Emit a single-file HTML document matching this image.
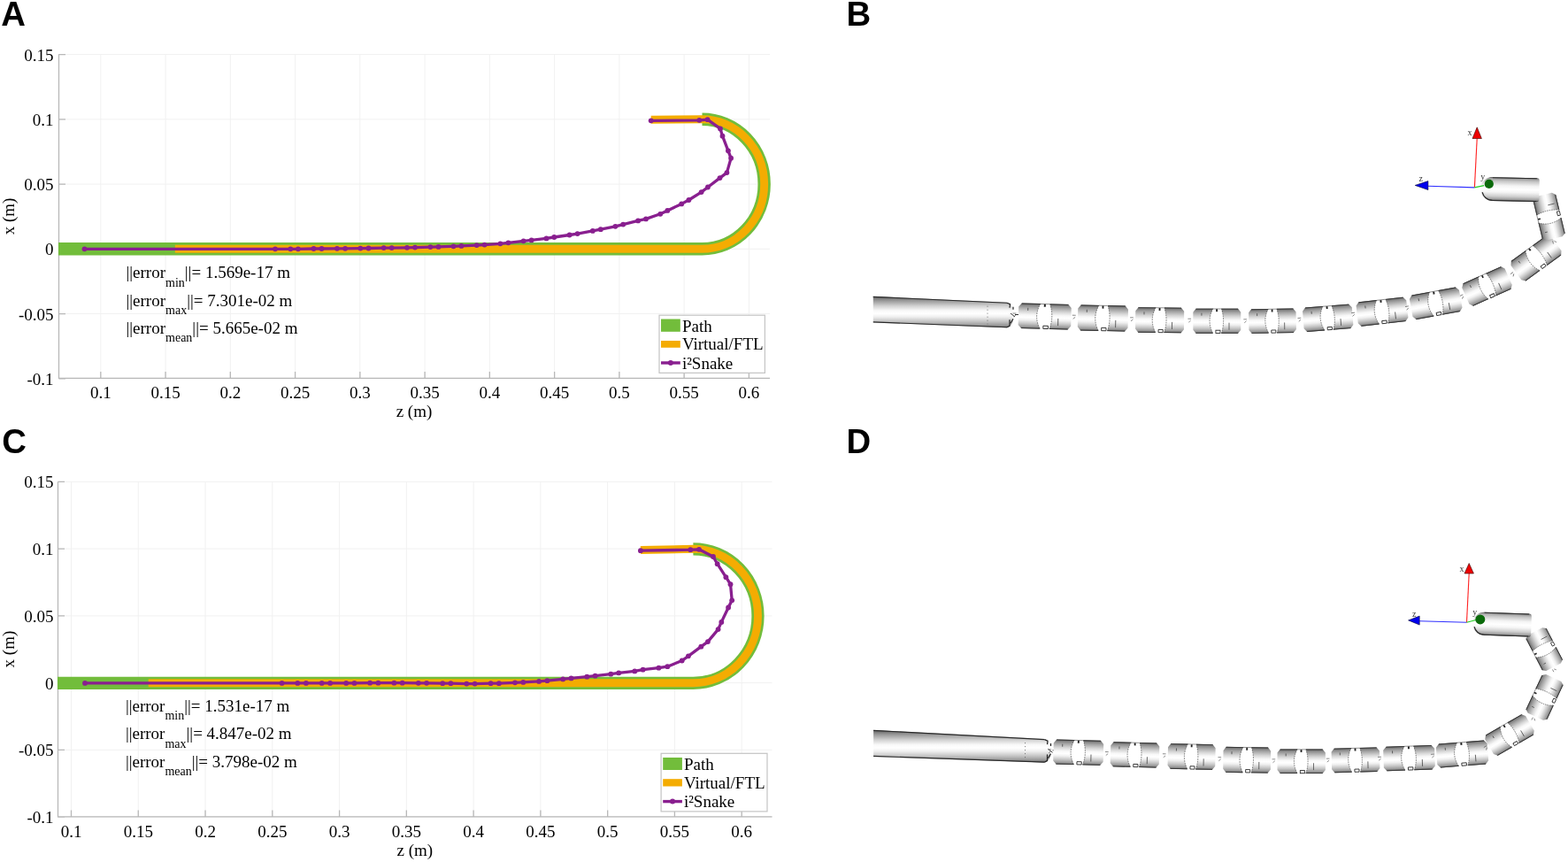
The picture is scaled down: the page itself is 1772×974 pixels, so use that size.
<!DOCTYPE html>
<html><head><meta charset="utf-8"><title>Figure</title>
<style>html,body{margin:0;padding:0;background:#fff;}svg{display:block;}</style></head>
<body><svg width="1772" height="974" viewBox="0 0 1772 974">
<rect width="1772" height="974" fill="#fff"/>
<defs>
<linearGradient id="cyl" x1="0" y1="0" x2="0" y2="1">
<stop offset="0" stop-color="#444"/><stop offset="0.05" stop-color="#7a7a7a"/><stop offset="0.14" stop-color="#9e9e9e"/>
<stop offset="0.32" stop-color="#d6d6d6"/><stop offset="0.46" stop-color="#f8f8f8"/><stop offset="0.56" stop-color="#ffffff"/><stop offset="0.66" stop-color="#f0f0f0"/>
<stop offset="0.8" stop-color="#c6c6c6"/><stop offset="0.92" stop-color="#9a9a9a"/><stop offset="0.97" stop-color="#777"/><stop offset="1" stop-color="#333"/>
</linearGradient>
<linearGradient id="cylL" x1="0" y1="0" x2="0" y2="1">
<stop offset="0" stop-color="#333"/><stop offset="0.04" stop-color="#6e6e6e"/><stop offset="0.12" stop-color="#929292"/>
<stop offset="0.3" stop-color="#d0d0d0"/><stop offset="0.45" stop-color="#f8f8f8"/><stop offset="0.55" stop-color="#ffffff"/><stop offset="0.65" stop-color="#f0f0f0"/>
<stop offset="0.8" stop-color="#c4c4c4"/><stop offset="0.92" stop-color="#999"/><stop offset="0.97" stop-color="#7a7a7a"/><stop offset="1" stop-color="#333"/>
</linearGradient>
<linearGradient id="cylE" x1="0" y1="0" x2="0" y2="1">
<stop offset="0" stop-color="#444"/><stop offset="0.05" stop-color="#9a9a9a"/><stop offset="0.15" stop-color="#c4c4c4"/>
<stop offset="0.35" stop-color="#f4f4f4"/><stop offset="0.5" stop-color="#ffffff"/><stop offset="0.62" stop-color="#f6f6f6"/>
<stop offset="0.8" stop-color="#cfcfcf"/><stop offset="0.93" stop-color="#9c9c9c"/><stop offset="1" stop-color="#333"/>
</linearGradient>
</defs>
<path d="M113.8 61.2V427.4 M187.06 61.2V427.4 M260.32 61.2V427.4 M333.58 61.2V427.4 M406.84 61.2V427.4 M480.1 61.2V427.4 M553.36 61.2V427.4 M626.62 61.2V427.4 M699.88 61.2V427.4 M773.14 61.2V427.4 M846.4 61.2V427.4 M66.5 427.8H870 M66.5 354.55H870 M66.5 281.3H870 M66.5 208.05H870 M66.5 134.8H870 M66.5 61.55H870" stroke="#f1f1f1" stroke-width="1" fill="none"/><path d="M66.5 61.2V427.4H870 M113.8 427.4v-7.5 M187.06 427.4v-7.5 M260.32 427.4v-7.5 M333.58 427.4v-7.5 M406.84 427.4v-7.5 M480.1 427.4v-7.5 M553.36 427.4v-7.5 M626.62 427.4v-7.5 M699.88 427.4v-7.5 M773.14 427.4v-7.5 M846.4 427.4v-7.5 M66.5 427.8h7.5 M66.5 354.55h7.5 M66.5 281.3h7.5 M66.5 208.05h7.5 M66.5 134.8h7.5 M66.5 61.55h7.5" stroke="#b8b8b8" stroke-width="1.3" fill="none"/><path d="M66 281.3H793.5A70.2 73.25 0 0 0 793.5 134.8" stroke="#72bd3b" stroke-width="14.4" fill="none" stroke-linecap="butt"/><path d="M197.8 281.3H793.5A70.2 73.25 0 0 0 793.5 134.8L735.7 135.2" stroke="#f4ac02" stroke-width="8.9" fill="none" stroke-linecap="butt" stroke-linejoin="round"/><path d="M95.5 281.3 L311 281.3 L328.3 281.3 L336.9 281.3 L354.5 281 L363.5 281 L380.9 280.8 L390.1 280.8 L407.3 280.6 L416.5 280.5 L433.7 280.1 L442.7 280.1 L460 279.8 L469 279.6 L486.4 279.1 L495.5 278.9 L512.5 278.3 L521.4 277.9 L538.7 277.1 L547.6 276.6 L565.4 275.3 L574.4 274.3 L591.6 272.3 L600.6 271.4 L617.5 269.4 L626.3 268 L643.6 265.5 L652.6 264.1 L669.8 260.9 L678.8 259.2 L695.4 255.8 L704.2 253.6 L721.1 249.4 L730 247.4 L746.2 241.8 L754.3 237.9 L770.2 230.4 L778.4 226 L792.6 217.1 L799.9 211.5 L813.5 201.1 L821.4 195.1 L826.1 178.7 L822.9 170.3 L816.5 153.7 L814 145.4 L799.6 135.2 L790.3 135.8 L735.7 136.3" stroke="#891f8f" stroke-width="3.3" fill="none" stroke-linejoin="round" stroke-linecap="round"/><circle cx="95.5" cy="281.3" r="2.9" fill="#891f8f"/><circle cx="311" cy="281.3" r="2.9" fill="#891f8f"/><circle cx="328.3" cy="281.3" r="2.9" fill="#891f8f"/><circle cx="336.9" cy="281.3" r="2.9" fill="#891f8f"/><circle cx="354.5" cy="281" r="2.9" fill="#891f8f"/><circle cx="363.5" cy="281" r="2.9" fill="#891f8f"/><circle cx="380.9" cy="280.8" r="2.9" fill="#891f8f"/><circle cx="390.1" cy="280.8" r="2.9" fill="#891f8f"/><circle cx="407.3" cy="280.6" r="2.9" fill="#891f8f"/><circle cx="416.5" cy="280.5" r="2.9" fill="#891f8f"/><circle cx="433.7" cy="280.1" r="2.9" fill="#891f8f"/><circle cx="442.7" cy="280.1" r="2.9" fill="#891f8f"/><circle cx="460" cy="279.8" r="2.9" fill="#891f8f"/><circle cx="469" cy="279.6" r="2.9" fill="#891f8f"/><circle cx="486.4" cy="279.1" r="2.9" fill="#891f8f"/><circle cx="495.5" cy="278.9" r="2.9" fill="#891f8f"/><circle cx="512.5" cy="278.3" r="2.9" fill="#891f8f"/><circle cx="521.4" cy="277.9" r="2.9" fill="#891f8f"/><circle cx="538.7" cy="277.1" r="2.9" fill="#891f8f"/><circle cx="547.6" cy="276.6" r="2.9" fill="#891f8f"/><circle cx="565.4" cy="275.3" r="2.9" fill="#891f8f"/><circle cx="574.4" cy="274.3" r="2.9" fill="#891f8f"/><circle cx="591.6" cy="272.3" r="2.9" fill="#891f8f"/><circle cx="600.6" cy="271.4" r="2.9" fill="#891f8f"/><circle cx="617.5" cy="269.4" r="2.9" fill="#891f8f"/><circle cx="626.3" cy="268" r="2.9" fill="#891f8f"/><circle cx="643.6" cy="265.5" r="2.9" fill="#891f8f"/><circle cx="652.6" cy="264.1" r="2.9" fill="#891f8f"/><circle cx="669.8" cy="260.9" r="2.9" fill="#891f8f"/><circle cx="678.8" cy="259.2" r="2.9" fill="#891f8f"/><circle cx="695.4" cy="255.8" r="2.9" fill="#891f8f"/><circle cx="704.2" cy="253.6" r="2.9" fill="#891f8f"/><circle cx="721.1" cy="249.4" r="2.9" fill="#891f8f"/><circle cx="730" cy="247.4" r="2.9" fill="#891f8f"/><circle cx="746.2" cy="241.8" r="2.9" fill="#891f8f"/><circle cx="754.3" cy="237.9" r="2.9" fill="#891f8f"/><circle cx="770.2" cy="230.4" r="2.9" fill="#891f8f"/><circle cx="778.4" cy="226" r="2.9" fill="#891f8f"/><circle cx="792.6" cy="217.1" r="2.9" fill="#891f8f"/><circle cx="799.9" cy="211.5" r="2.9" fill="#891f8f"/><circle cx="813.5" cy="201.1" r="2.9" fill="#891f8f"/><circle cx="821.4" cy="195.1" r="2.9" fill="#891f8f"/><circle cx="826.1" cy="178.7" r="2.9" fill="#891f8f"/><circle cx="822.9" cy="170.3" r="2.9" fill="#891f8f"/><circle cx="816.5" cy="153.7" r="2.9" fill="#891f8f"/><circle cx="814" cy="145.4" r="2.9" fill="#891f8f"/><circle cx="799.6" cy="135.2" r="2.9" fill="#891f8f"/><circle cx="790.3" cy="135.8" r="2.9" fill="#891f8f"/><circle cx="735.7" cy="136.3" r="2.9" fill="#891f8f"/><g font-family="'Liberation Serif', 'Times New Roman', serif" font-size="19" fill="#000"><text x="113.8" y="450.3" text-anchor="middle">0.1</text><text x="187.06" y="450.3" text-anchor="middle">0.15</text><text x="260.32" y="450.3" text-anchor="middle">0.2</text><text x="333.58" y="450.3" text-anchor="middle">0.25</text><text x="406.84" y="450.3" text-anchor="middle">0.3</text><text x="480.1" y="450.3" text-anchor="middle">0.35</text><text x="553.36" y="450.3" text-anchor="middle">0.4</text><text x="626.62" y="450.3" text-anchor="middle">0.45</text><text x="699.88" y="450.3" text-anchor="middle">0.5</text><text x="773.14" y="450.3" text-anchor="middle">0.55</text><text x="846.4" y="450.3" text-anchor="middle">0.6</text><text x="60.5" y="434.8" text-anchor="end">-0.1</text><text x="60.5" y="361.55" text-anchor="end">-0.05</text><text x="60.5" y="288.3" text-anchor="end">0</text><text x="60.5" y="215.05" text-anchor="end">0.05</text><text x="60.5" y="141.8" text-anchor="end">0.1</text><text x="60.5" y="68.55" text-anchor="end">0.15</text><text x="468" y="471.3" text-anchor="middle">z (m)</text><text transform="translate(16.4 244.5) rotate(-90)" text-anchor="middle">x (m)</text><text x="142.5" y="314.2">||error<tspan font-size="14" dy="9.3">min</tspan><tspan dy="-9.3">||= 1.569e-17 m</tspan></text><text x="142.5" y="345.5">||error<tspan font-size="14" dy="9.3">max</tspan><tspan dy="-9.3">||= 7.301e-02 m</tspan></text><text x="142.5" y="376.5">||error<tspan font-size="14" dy="9.3">mean</tspan><tspan dy="-9.3">||= 5.665e-02 m</tspan></text></g><rect x="745" y="356.2" width="119.4" height="65.2" fill="#fff" stroke="#c4c4c4" stroke-width="1.2"/><rect x="747" y="360.5" width="21.8" height="14.3" fill="#72bd3b"/><rect x="747" y="385" width="21.8" height="7.8" fill="#f4ac02"/><path d="M747 410H768.8" stroke="#891f8f" stroke-width="3.4"/><circle cx="757.9" cy="410" r="3" fill="#891f8f"/><g font-family="'Liberation Serif', 'Times New Roman', serif" font-size="19" fill="#000"><text x="770.9" y="374.7">Path</text><text x="770.9" y="395.4">Virtual/FTL</text><text x="770.9" y="416.7">i²Snake</text></g><path d="M80.5 544.3V922.9 M156.27 544.3V922.9 M232.04 544.3V922.9 M307.81 544.3V922.9 M383.58 544.3V922.9 M459.35 544.3V922.9 M535.12 544.3V922.9 M610.89 544.3V922.9 M686.66 544.3V922.9 M762.43 544.3V922.9 M838.2 544.3V922.9 M65.5 923.1H872.5 M65.5 847.35H872.5 M65.5 771.6H872.5 M65.5 695.85H872.5 M65.5 620.1H872.5 M65.5 544.35H872.5" stroke="#f1f1f1" stroke-width="1" fill="none"/><path d="M65.5 544.3V922.9H872.5 M80.5 922.9v-7.5 M156.27 922.9v-7.5 M232.04 922.9v-7.5 M307.81 922.9v-7.5 M383.58 922.9v-7.5 M459.35 922.9v-7.5 M535.12 922.9v-7.5 M610.89 922.9v-7.5 M686.66 922.9v-7.5 M762.43 922.9v-7.5 M838.2 922.9v-7.5 M65.5 923.1h7.5 M65.5 847.35h7.5 M65.5 771.6h7.5 M65.5 695.85h7.5 M65.5 620.1h7.5 M65.5 544.35h7.5" stroke="#b8b8b8" stroke-width="1.3" fill="none"/><path d="M65 771.8H783.4A73.1 75.75 0 0 0 783.4 620.3" stroke="#72bd3b" stroke-width="14.2" fill="none" stroke-linecap="butt"/><path d="M167.7 771.8H783.4A73.1 75.75 0 0 0 783.4 620.3L723.9 621.5" stroke="#f4ac02" stroke-width="8.9" fill="none" stroke-linecap="butt" stroke-linejoin="round"/><path d="M96 771.95 L318.6 771.95 L336.3 771.95 L345.9 771.95 L363.7 771.95 L373.1 771.95 L391.2 771.95 L400.5 771.95 L418.1 771.65 L427.4 771.65 L445.4 771.65 L454.7 771.65 L472.8 771.85 L482.1 771.85 L500.2 772.15 L509.4 772.15 L527.3 772.55 L536.6 772.55 L554.6 772.15 L563.9 772.15 L582 771.35 L591.3 770.95 L609.1 769.95 L618.4 769.15 L636.2 767.4 L645.5 766.4 L663.3 764.7 L672.6 763.7 L690.3 761.7 L699.2 760.4 L717.3 758.4 L726.6 756.7 L744.4 754.7 L754.3 753.2 L770.7 746.5 L777.9 741.3 L792.3 730.7 L799.9 725.1 L811.6 711.1 L815.3 702.9 L823.1 686.5 L827.2 678.3 L825.5 660.2 L820.4 652.2 L810.7 637.2 L806 629 L790 620.8 L780.3 621.2 L723.9 622.2" stroke="#891f8f" stroke-width="3.3" fill="none" stroke-linejoin="round" stroke-linecap="round"/><circle cx="96" cy="771.95" r="2.9" fill="#891f8f"/><circle cx="318.6" cy="771.95" r="2.9" fill="#891f8f"/><circle cx="336.3" cy="771.95" r="2.9" fill="#891f8f"/><circle cx="345.9" cy="771.95" r="2.9" fill="#891f8f"/><circle cx="363.7" cy="771.95" r="2.9" fill="#891f8f"/><circle cx="373.1" cy="771.95" r="2.9" fill="#891f8f"/><circle cx="391.2" cy="771.95" r="2.9" fill="#891f8f"/><circle cx="400.5" cy="771.95" r="2.9" fill="#891f8f"/><circle cx="418.1" cy="771.65" r="2.9" fill="#891f8f"/><circle cx="427.4" cy="771.65" r="2.9" fill="#891f8f"/><circle cx="445.4" cy="771.65" r="2.9" fill="#891f8f"/><circle cx="454.7" cy="771.65" r="2.9" fill="#891f8f"/><circle cx="472.8" cy="771.85" r="2.9" fill="#891f8f"/><circle cx="482.1" cy="771.85" r="2.9" fill="#891f8f"/><circle cx="500.2" cy="772.15" r="2.9" fill="#891f8f"/><circle cx="509.4" cy="772.15" r="2.9" fill="#891f8f"/><circle cx="527.3" cy="772.55" r="2.9" fill="#891f8f"/><circle cx="536.6" cy="772.55" r="2.9" fill="#891f8f"/><circle cx="554.6" cy="772.15" r="2.9" fill="#891f8f"/><circle cx="563.9" cy="772.15" r="2.9" fill="#891f8f"/><circle cx="582" cy="771.35" r="2.9" fill="#891f8f"/><circle cx="591.3" cy="770.95" r="2.9" fill="#891f8f"/><circle cx="609.1" cy="769.95" r="2.9" fill="#891f8f"/><circle cx="618.4" cy="769.15" r="2.9" fill="#891f8f"/><circle cx="636.2" cy="767.4" r="2.9" fill="#891f8f"/><circle cx="645.5" cy="766.4" r="2.9" fill="#891f8f"/><circle cx="663.3" cy="764.7" r="2.9" fill="#891f8f"/><circle cx="672.6" cy="763.7" r="2.9" fill="#891f8f"/><circle cx="690.3" cy="761.7" r="2.9" fill="#891f8f"/><circle cx="699.2" cy="760.4" r="2.9" fill="#891f8f"/><circle cx="717.3" cy="758.4" r="2.9" fill="#891f8f"/><circle cx="726.6" cy="756.7" r="2.9" fill="#891f8f"/><circle cx="744.4" cy="754.7" r="2.9" fill="#891f8f"/><circle cx="754.3" cy="753.2" r="2.9" fill="#891f8f"/><circle cx="770.7" cy="746.5" r="2.9" fill="#891f8f"/><circle cx="777.9" cy="741.3" r="2.9" fill="#891f8f"/><circle cx="792.3" cy="730.7" r="2.9" fill="#891f8f"/><circle cx="799.9" cy="725.1" r="2.9" fill="#891f8f"/><circle cx="811.6" cy="711.1" r="2.9" fill="#891f8f"/><circle cx="815.3" cy="702.9" r="2.9" fill="#891f8f"/><circle cx="823.1" cy="686.5" r="2.9" fill="#891f8f"/><circle cx="827.2" cy="678.3" r="2.9" fill="#891f8f"/><circle cx="825.5" cy="660.2" r="2.9" fill="#891f8f"/><circle cx="820.4" cy="652.2" r="2.9" fill="#891f8f"/><circle cx="810.7" cy="637.2" r="2.9" fill="#891f8f"/><circle cx="806" cy="629" r="2.9" fill="#891f8f"/><circle cx="790" cy="620.8" r="2.9" fill="#891f8f"/><circle cx="780.3" cy="621.2" r="2.9" fill="#891f8f"/><circle cx="723.9" cy="622.2" r="2.9" fill="#891f8f"/><g font-family="'Liberation Serif', 'Times New Roman', serif" font-size="19" fill="#000"><text x="80.5" y="945.5" text-anchor="middle">0.1</text><text x="156.27" y="945.5" text-anchor="middle">0.15</text><text x="232.04" y="945.5" text-anchor="middle">0.2</text><text x="307.81" y="945.5" text-anchor="middle">0.25</text><text x="383.58" y="945.5" text-anchor="middle">0.3</text><text x="459.35" y="945.5" text-anchor="middle">0.35</text><text x="535.12" y="945.5" text-anchor="middle">0.4</text><text x="610.89" y="945.5" text-anchor="middle">0.45</text><text x="686.66" y="945.5" text-anchor="middle">0.5</text><text x="762.43" y="945.5" text-anchor="middle">0.55</text><text x="838.2" y="945.5" text-anchor="middle">0.6</text><text x="60.5" y="930.1" text-anchor="end">-0.1</text><text x="60.5" y="854.35" text-anchor="end">-0.05</text><text x="60.5" y="778.6" text-anchor="end">0</text><text x="60.5" y="702.85" text-anchor="end">0.05</text><text x="60.5" y="627.1" text-anchor="end">0.1</text><text x="60.5" y="551.35" text-anchor="end">0.15</text><text x="468.9" y="967.4" text-anchor="middle">z (m)</text><text transform="translate(16.4 733.6) rotate(-90)" text-anchor="middle">x (m)</text><text x="141.9" y="803.8">||error<tspan font-size="14" dy="9.3">min</tspan><tspan dy="-9.3">||= 1.531e-17 m</tspan></text><text x="141.9" y="835.2">||error<tspan font-size="14" dy="9.3">max</tspan><tspan dy="-9.3">||= 4.847e-02 m</tspan></text><text x="141.9" y="866.5">||error<tspan font-size="14" dy="9.3">mean</tspan><tspan dy="-9.3">||= 3.798e-02 m</tspan></text></g><rect x="747.1" y="851.3" width="119.9" height="65.6" fill="#fff" stroke="#c4c4c4" stroke-width="1.2"/><rect x="749.2" y="856" width="21.7" height="14" fill="#72bd3b"/><rect x="749.2" y="880.2" width="21.7" height="8.3" fill="#f4ac02"/><path d="M749.2 905.6H770.9" stroke="#891f8f" stroke-width="3.4"/><circle cx="760.05" cy="905.6" r="3" fill="#891f8f"/><g font-family="'Liberation Serif', 'Times New Roman', serif" font-size="19" fill="#000"><text x="772.9" y="869.8">Path</text><text x="772.9" y="890.8">Virtual/FTL</text><text x="772.9" y="912.3">i²Snake</text></g><path d="M986.8 334.9L1138 341.7L1142.5 344.7L1145 348.7L1144 356L1145 363.3L1142.5 367.3L1138 370.3L986.8 364.4Z" fill="url(#cylL)"/><path d="M986.8 335.4L1138 342.2M986.8 363.9L1138 369.8" stroke="#2a2a2a" stroke-width="1.1" fill="none"/><path d="M1138 342.2L1141.5 343.7L1141 347.7M1145 346.7L1145 349.7M1141 361.3L1141 368.3L1138 369.8M1145 360.3L1142 365.3" stroke="#222" stroke-width="1.2" fill="none"/><path d="M1142 354L1147 358M1147 355.5H1152" stroke="#333" stroke-width="1" fill="none"/><path d="M1116 345.7V366.3" stroke="#555" stroke-width="0.8" stroke-dasharray="1 3" fill="none"/><g transform="translate(1180.7 357.5) rotate(1.5) scale(1.010 1.018)"><path d="M-26 -14H-5Q-13 0 -5 14H-26L-29.5 10V-10Z" fill="url(#cyl)"/><path d="M5.5 -14H26L29.5 -10V10L26 14H5.5Q10.5 0 5.5 -14Z" fill="url(#cyl)"/><path d="M-26 -13.55H-5M-26 13.55H-5M5.5 -13.55H26M5.5 13.55H26" stroke="#333" stroke-width="0.9" fill="none"/><path d="M-5 -13.7H5" stroke="#444" stroke-width="0.6" fill="none"/><path d="M-5 -14Q-13 0 -5 14M5.5 -14Q10.5 0 5.5 14" stroke="#444" stroke-width="0.7" stroke-dasharray="1.6 1.1" fill="none"/><path d="M-19 -9V-6M15 2V10" stroke="#444" stroke-width="0.8" fill="none"/><rect x="-1.2" y="-13.5" width="2" height="3" fill="#222"/><rect x="-1.5" y="10.5" width="5.5" height="3.2" fill="#fff" stroke="#222" stroke-width="0.9"/><path d="M-36 -2.5H-32M-35 1.5L-32.5 -0.5" stroke="#555" stroke-width="0.7" fill="none"/></g><g transform="translate(1246.4 359.5) rotate(1.2) scale(0.962 1.036)"><path d="M-26 -14H-5Q-13 0 -5 14H-26L-29.5 10V-10Z" fill="url(#cyl)"/><path d="M5.5 -14H26L29.5 -10V10L26 14H5.5Q10.5 0 5.5 -14Z" fill="url(#cyl)"/><path d="M-26 -13.55H-5M-26 13.55H-5M5.5 -13.55H26M5.5 13.55H26" stroke="#333" stroke-width="0.9" fill="none"/><path d="M-5 -13.7H5" stroke="#444" stroke-width="0.6" fill="none"/><path d="M-5 -14Q-13 0 -5 14M5.5 -14Q10.5 0 5.5 14" stroke="#444" stroke-width="0.7" stroke-dasharray="1.6 1.1" fill="none"/><path d="M-19 -9V-6M15 2V10" stroke="#444" stroke-width="0.8" fill="none"/><rect x="-1.2" y="-13.5" width="2" height="3" fill="#222"/><rect x="-1.5" y="10.5" width="5.5" height="3.2" fill="#fff" stroke="#222" stroke-width="0.9"/><path d="M-36 -2.5H-32M-35 1.5L-32.5 -0.5" stroke="#555" stroke-width="0.7" fill="none"/></g><g transform="translate(1310.6 361.7) rotate(0.6) scale(0.931 1.018)"><path d="M-26 -14H-5Q-13 0 -5 14H-26L-29.5 10V-10Z" fill="url(#cyl)"/><path d="M5.5 -14H26L29.5 -10V10L26 14H5.5Q10.5 0 5.5 -14Z" fill="url(#cyl)"/><path d="M-26 -13.55H-5M-26 13.55H-5M5.5 -13.55H26M5.5 13.55H26" stroke="#333" stroke-width="0.9" fill="none"/><path d="M-5 -13.7H5" stroke="#444" stroke-width="0.6" fill="none"/><path d="M-5 -14Q-13 0 -5 14M5.5 -14Q10.5 0 5.5 14" stroke="#444" stroke-width="0.7" stroke-dasharray="1.6 1.1" fill="none"/><path d="M-19 -9V-6M15 2V10" stroke="#444" stroke-width="0.8" fill="none"/><rect x="-1.2" y="-13.5" width="2" height="3" fill="#222"/><rect x="-1.5" y="10.5" width="5.5" height="3.2" fill="#fff" stroke="#222" stroke-width="0.9"/><path d="M-36 -2.5H-32M-35 1.5L-32.5 -0.5" stroke="#555" stroke-width="0.7" fill="none"/></g><g transform="translate(1375.3 362.7) rotate(0) scale(0.914 1.000)"><path d="M-26 -14H-5Q-13 0 -5 14H-26L-29.5 10V-10Z" fill="url(#cyl)"/><path d="M5.5 -14H26L29.5 -10V10L26 14H5.5Q10.5 0 5.5 -14Z" fill="url(#cyl)"/><path d="M-26 -13.55H-5M-26 13.55H-5M5.5 -13.55H26M5.5 13.55H26" stroke="#333" stroke-width="0.9" fill="none"/><path d="M-5 -13.7H5" stroke="#444" stroke-width="0.6" fill="none"/><path d="M-5 -14Q-13 0 -5 14M5.5 -14Q10.5 0 5.5 14" stroke="#444" stroke-width="0.7" stroke-dasharray="1.6 1.1" fill="none"/><path d="M-19 -9V-6M15 2V10" stroke="#444" stroke-width="0.8" fill="none"/><rect x="-1.2" y="-13.5" width="2" height="3" fill="#222"/><rect x="-1.5" y="10.5" width="5.5" height="3.2" fill="#fff" stroke="#222" stroke-width="0.9"/><path d="M-36 -2.5H-32M-35 1.5L-32.5 -0.5" stroke="#555" stroke-width="0.7" fill="none"/></g><g transform="translate(1438 362.7) rotate(-1) scale(0.907 0.982)"><path d="M-26 -14H-5Q-13 0 -5 14H-26L-29.5 10V-10Z" fill="url(#cyl)"/><path d="M5.5 -14H26L29.5 -10V10L26 14H5.5Q10.5 0 5.5 -14Z" fill="url(#cyl)"/><path d="M-26 -13.55H-5M-26 13.55H-5M5.5 -13.55H26M5.5 13.55H26" stroke="#333" stroke-width="0.9" fill="none"/><path d="M-5 -13.7H5" stroke="#444" stroke-width="0.6" fill="none"/><path d="M-5 -14Q-13 0 -5 14M5.5 -14Q10.5 0 5.5 14" stroke="#444" stroke-width="0.7" stroke-dasharray="1.6 1.1" fill="none"/><path d="M-19 -9V-6M15 2V10" stroke="#444" stroke-width="0.8" fill="none"/><rect x="-1.2" y="-13.5" width="2" height="3" fill="#222"/><rect x="-1.5" y="10.5" width="5.5" height="3.2" fill="#fff" stroke="#222" stroke-width="0.9"/><path d="M-36 -2.5H-32M-35 1.5L-32.5 -0.5" stroke="#555" stroke-width="0.7" fill="none"/></g><g transform="translate(1500.7 359.3) rotate(-4.5) scale(0.948 0.982)"><path d="M-26 -14H-5Q-13 0 -5 14H-26L-29.5 10V-10Z" fill="url(#cyl)"/><path d="M5.5 -14H26L29.5 -10V10L26 14H5.5Q10.5 0 5.5 -14Z" fill="url(#cyl)"/><path d="M-26 -13.55H-5M-26 13.55H-5M5.5 -13.55H26M5.5 13.55H26" stroke="#333" stroke-width="0.9" fill="none"/><path d="M-5 -13.7H5" stroke="#444" stroke-width="0.6" fill="none"/><path d="M-5 -14Q-13 0 -5 14M5.5 -14Q10.5 0 5.5 14" stroke="#444" stroke-width="0.7" stroke-dasharray="1.6 1.1" fill="none"/><path d="M-19 -9V-6M15 2V10" stroke="#444" stroke-width="0.8" fill="none"/><rect x="-1.2" y="-13.5" width="2" height="3" fill="#222"/><rect x="-1.5" y="10.5" width="5.5" height="3.2" fill="#fff" stroke="#222" stroke-width="0.9"/><path d="M-36 -2.5H-32M-35 1.5L-32.5 -0.5" stroke="#555" stroke-width="0.7" fill="none"/></g><g transform="translate(1562 352.2) rotate(-6.4) scale(0.966 0.982)"><path d="M-26 -14H-5Q-13 0 -5 14H-26L-29.5 10V-10Z" fill="url(#cyl)"/><path d="M5.5 -14H26L29.5 -10V10L26 14H5.5Q10.5 0 5.5 -14Z" fill="url(#cyl)"/><path d="M-26 -13.55H-5M-26 13.55H-5M5.5 -13.55H26M5.5 13.55H26" stroke="#333" stroke-width="0.9" fill="none"/><path d="M-5 -13.7H5" stroke="#444" stroke-width="0.6" fill="none"/><path d="M-5 -14Q-13 0 -5 14M5.5 -14Q10.5 0 5.5 14" stroke="#444" stroke-width="0.7" stroke-dasharray="1.6 1.1" fill="none"/><path d="M-19 -9V-6M15 2V10" stroke="#444" stroke-width="0.8" fill="none"/><rect x="-1.2" y="-13.5" width="2" height="3" fill="#222"/><rect x="-1.5" y="10.5" width="5.5" height="3.2" fill="#fff" stroke="#222" stroke-width="0.9"/><path d="M-36 -2.5H-32M-35 1.5L-32.5 -0.5" stroke="#555" stroke-width="0.7" fill="none"/></g><g transform="translate(1622.7 342.8) rotate(-10.3) scale(0.966 1.000)"><path d="M-26 -14H-5Q-13 0 -5 14H-26L-29.5 10V-10Z" fill="url(#cyl)"/><path d="M5.5 -14H26L29.5 -10V10L26 14H5.5Q10.5 0 5.5 -14Z" fill="url(#cyl)"/><path d="M-26 -13.55H-5M-26 13.55H-5M5.5 -13.55H26M5.5 13.55H26" stroke="#333" stroke-width="0.9" fill="none"/><path d="M-5 -13.7H5" stroke="#444" stroke-width="0.6" fill="none"/><path d="M-5 -14Q-13 0 -5 14M5.5 -14Q10.5 0 5.5 14" stroke="#444" stroke-width="0.7" stroke-dasharray="1.6 1.1" fill="none"/><path d="M-19 -9V-6M15 2V10" stroke="#444" stroke-width="0.8" fill="none"/><rect x="-1.2" y="-13.5" width="2" height="3" fill="#222"/><rect x="-1.5" y="10.5" width="5.5" height="3.2" fill="#fff" stroke="#222" stroke-width="0.9"/><path d="M-36 -2.5H-32M-35 1.5L-32.5 -0.5" stroke="#555" stroke-width="0.7" fill="none"/></g><g transform="translate(1680.5 323.5) rotate(-24) scale(0.897 1.000)"><path d="M-26 -14H-5Q-13 0 -5 14H-26L-29.5 10V-10Z" fill="url(#cyl)"/><path d="M5.5 -14H26L29.5 -10V10L26 14H5.5Q10.5 0 5.5 -14Z" fill="url(#cyl)"/><path d="M-26 -13.55H-5M-26 13.55H-5M5.5 -13.55H26M5.5 13.55H26" stroke="#333" stroke-width="0.9" fill="none"/><path d="M-5 -13.7H5" stroke="#444" stroke-width="0.6" fill="none"/><path d="M-5 -14Q-13 0 -5 14M5.5 -14Q10.5 0 5.5 14" stroke="#444" stroke-width="0.7" stroke-dasharray="1.6 1.1" fill="none"/><path d="M-19 -9V-6M15 2V10" stroke="#444" stroke-width="0.8" fill="none"/><rect x="-1.2" y="-13.5" width="2" height="3" fill="#222"/><rect x="-1.5" y="10.5" width="5.5" height="3.2" fill="#fff" stroke="#222" stroke-width="0.9"/><path d="M-36 -2.5H-32M-35 1.5L-32.5 -0.5" stroke="#555" stroke-width="0.7" fill="none"/></g><g transform="translate(1736 291.7) rotate(-36) scale(0.948 1.000)"><path d="M-26 -14H-5Q-13 0 -5 14H-26L-29.5 10V-10Z" fill="url(#cyl)"/><path d="M5.5 -14H26L29.5 -10V10L26 14H5.5Q10.5 0 5.5 -14Z" fill="url(#cyl)"/><path d="M-26 -13.55H-5M-26 13.55H-5M5.5 -13.55H26M5.5 13.55H26" stroke="#333" stroke-width="0.9" fill="none"/><path d="M-5 -13.7H5" stroke="#444" stroke-width="0.6" fill="none"/><path d="M-5 -14Q-13 0 -5 14M5.5 -14Q10.5 0 5.5 14" stroke="#444" stroke-width="0.7" stroke-dasharray="1.6 1.1" fill="none"/><path d="M-19 -9V-6M15 2V10" stroke="#444" stroke-width="0.8" fill="none"/><rect x="-1.2" y="-13.5" width="2" height="3" fill="#222"/><rect x="-1.5" y="10.5" width="5.5" height="3.2" fill="#fff" stroke="#222" stroke-width="0.9"/><path d="M-36 -2.5H-32M-35 1.5L-32.5 -0.5" stroke="#555" stroke-width="0.7" fill="none"/></g><g transform="translate(1750.5 244.8) rotate(-103.5) scale(0.862 0.946)"><path d="M-26 -14H-5Q-13 0 -5 14H-26L-29.5 10V-10Z" fill="url(#cyl)"/><path d="M5.5 -14H26L29.5 -10V10L26 14H5.5Q10.5 0 5.5 -14Z" fill="url(#cyl)"/><path d="M-26 -13.55H-5M-26 13.55H-5M5.5 -13.55H26M5.5 13.55H26" stroke="#333" stroke-width="0.9" fill="none"/><path d="M-5 -13.7H5" stroke="#444" stroke-width="0.6" fill="none"/><path d="M-5 -14Q-13 0 -5 14M5.5 -14Q10.5 0 5.5 14" stroke="#444" stroke-width="0.7" stroke-dasharray="1.6 1.1" fill="none"/><path d="M-19 -9V-6M15 2V10" stroke="#444" stroke-width="0.8" fill="none"/><rect x="-1.2" y="-13.5" width="2" height="3" fill="#222"/><rect x="-1.5" y="10.5" width="5.5" height="3.2" fill="#fff" stroke="#222" stroke-width="0.9"/><path d="M-36 -2.5H-32M-35 1.5L-32.5 -0.5" stroke="#555" stroke-width="0.7" fill="none"/></g><g transform="translate(1673.2 213.2) rotate(1.38)"><path d="M13.4 -13.4H63.32Q66.32 -13.4 66.32 -10.4V10.4Q66.32 13.4 63.32 13.4H13.4A13.4 13.4 0 0 1 13.4 -13.4Z" fill="url(#cylE)"/><path d="M13.4 -12.9H63.32M13.4 12.9H63.32" stroke="#2a2a2a" stroke-width="1" fill="none"/><path d="M13.4 12.9A12.9 12.9 0 0 1 2 4" stroke="#2a2a2a" stroke-width="1.2" fill="none"/></g><path d="M1666.4 211.9L1669.2 156.5" stroke="#ff2020" stroke-width="1.1"/><path d="M1664 156.5L1669.2 143.8L1674.4 156.5Z" fill="#ee0000" stroke="#300" stroke-width="0.6" stroke-linejoin="round"/><path d="M1666.4 211.9L1613.9 210.2" stroke="#3030ff" stroke-width="1.1"/><path d="M1613.9 204.6L1599.2 209.4L1613.9 214.6Z" fill="#0000ee" stroke="#003" stroke-width="0.6" stroke-linejoin="round"/><path d="M1666.4 211.9L1677.1 209.6" stroke="#20d020" stroke-width="1.1"/><circle cx="1682.8" cy="207.9" r="5.1" fill="#0a6a0a"/><g font-family="'Liberation Serif', 'Times New Roman', serif" font-size="10" fill="#3a3a3a"><text x="1658.6" y="153.1">x</text><text x="1603.6" y="205.2">z</text><text x="1673.2" y="203.4">y</text></g><path d="M987.1 824.9L1180.5 835.1L1185 838.1L1187.5 842.1L1186.5 848.35L1187.5 854.6L1185 858.6L1180.5 861.6L987.1 854.9Z" fill="url(#cylL)"/><path d="M987.1 825.4L1180.5 835.6M987.1 854.4L1180.5 861.1" stroke="#2a2a2a" stroke-width="1.1" fill="none"/><path d="M1180.5 835.6L1184 837.1L1183.5 841.1M1187.5 840.1L1187.5 843.1M1183.5 852.6L1183.5 859.6L1180.5 861.1M1187.5 851.6L1184.5 856.6" stroke="#222" stroke-width="1.2" fill="none"/><path d="M1184.5 846.35L1189.5 850.35M1189.5 847.85H1194.5" stroke="#333" stroke-width="1" fill="none"/><path d="M1158.5 839.1V857.6" stroke="#555" stroke-width="0.8" stroke-dasharray="1 3" fill="none"/><g transform="translate(1218.7 850.2) rotate(1.5) scale(0.957 1.000)"><path d="M-26 -14H-5Q-13 0 -5 14H-26L-29.5 10V-10Z" fill="url(#cyl)"/><path d="M5.5 -14H26L29.5 -10V10L26 14H5.5Q10.5 0 5.5 -14Z" fill="url(#cyl)"/><path d="M-26 -13.55H-5M-26 13.55H-5M5.5 -13.55H26M5.5 13.55H26" stroke="#333" stroke-width="0.9" fill="none"/><path d="M-5 -13.7H5" stroke="#444" stroke-width="0.6" fill="none"/><path d="M-5 -14Q-13 0 -5 14M5.5 -14Q10.5 0 5.5 14" stroke="#444" stroke-width="0.7" stroke-dasharray="1.6 1.1" fill="none"/><path d="M-19 -9V-6M15 2V10" stroke="#444" stroke-width="0.8" fill="none"/><rect x="-1.2" y="-13.5" width="2" height="3" fill="#222"/><rect x="-1.5" y="10.5" width="5.5" height="3.2" fill="#fff" stroke="#222" stroke-width="0.9"/><path d="M-36 -2.5H-32M-35 1.5L-32.5 -0.5" stroke="#555" stroke-width="0.7" fill="none"/></g><g transform="translate(1282.5 852.9) rotate(1.5) scale(0.934 1.000)"><path d="M-26 -14H-5Q-13 0 -5 14H-26L-29.5 10V-10Z" fill="url(#cyl)"/><path d="M5.5 -14H26L29.5 -10V10L26 14H5.5Q10.5 0 5.5 -14Z" fill="url(#cyl)"/><path d="M-26 -13.55H-5M-26 13.55H-5M5.5 -13.55H26M5.5 13.55H26" stroke="#333" stroke-width="0.9" fill="none"/><path d="M-5 -13.7H5" stroke="#444" stroke-width="0.6" fill="none"/><path d="M-5 -14Q-13 0 -5 14M5.5 -14Q10.5 0 5.5 14" stroke="#444" stroke-width="0.7" stroke-dasharray="1.6 1.1" fill="none"/><path d="M-19 -9V-6M15 2V10" stroke="#444" stroke-width="0.8" fill="none"/><rect x="-1.2" y="-13.5" width="2" height="3" fill="#222"/><rect x="-1.5" y="10.5" width="5.5" height="3.2" fill="#fff" stroke="#222" stroke-width="0.9"/><path d="M-36 -2.5H-32M-35 1.5L-32.5 -0.5" stroke="#555" stroke-width="0.7" fill="none"/></g><g transform="translate(1346.6 855) rotate(1.2) scale(0.910 1.025)"><path d="M-26 -14H-5Q-13 0 -5 14H-26L-29.5 10V-10Z" fill="url(#cyl)"/><path d="M5.5 -14H26L29.5 -10V10L26 14H5.5Q10.5 0 5.5 -14Z" fill="url(#cyl)"/><path d="M-26 -13.55H-5M-26 13.55H-5M5.5 -13.55H26M5.5 13.55H26" stroke="#333" stroke-width="0.9" fill="none"/><path d="M-5 -13.7H5" stroke="#444" stroke-width="0.6" fill="none"/><path d="M-5 -14Q-13 0 -5 14M5.5 -14Q10.5 0 5.5 14" stroke="#444" stroke-width="0.7" stroke-dasharray="1.6 1.1" fill="none"/><path d="M-19 -9V-6M15 2V10" stroke="#444" stroke-width="0.8" fill="none"/><rect x="-1.2" y="-13.5" width="2" height="3" fill="#222"/><rect x="-1.5" y="10.5" width="5.5" height="3.2" fill="#fff" stroke="#222" stroke-width="0.9"/><path d="M-36 -2.5H-32M-35 1.5L-32.5 -0.5" stroke="#555" stroke-width="0.7" fill="none"/></g><g transform="translate(1409.2 858.7) rotate(0.8) scale(0.910 1.036)"><path d="M-26 -14H-5Q-13 0 -5 14H-26L-29.5 10V-10Z" fill="url(#cyl)"/><path d="M5.5 -14H26L29.5 -10V10L26 14H5.5Q10.5 0 5.5 -14Z" fill="url(#cyl)"/><path d="M-26 -13.55H-5M-26 13.55H-5M5.5 -13.55H26M5.5 13.55H26" stroke="#333" stroke-width="0.9" fill="none"/><path d="M-5 -13.7H5" stroke="#444" stroke-width="0.6" fill="none"/><path d="M-5 -14Q-13 0 -5 14M5.5 -14Q10.5 0 5.5 14" stroke="#444" stroke-width="0.7" stroke-dasharray="1.6 1.1" fill="none"/><path d="M-19 -9V-6M15 2V10" stroke="#444" stroke-width="0.8" fill="none"/><rect x="-1.2" y="-13.5" width="2" height="3" fill="#222"/><rect x="-1.5" y="10.5" width="5.5" height="3.2" fill="#fff" stroke="#222" stroke-width="0.9"/><path d="M-36 -2.5H-32M-35 1.5L-32.5 -0.5" stroke="#555" stroke-width="0.7" fill="none"/></g><g transform="translate(1470.7 860.3) rotate(0) scale(0.921 0.982)"><path d="M-26 -14H-5Q-13 0 -5 14H-26L-29.5 10V-10Z" fill="url(#cyl)"/><path d="M5.5 -14H26L29.5 -10V10L26 14H5.5Q10.5 0 5.5 -14Z" fill="url(#cyl)"/><path d="M-26 -13.55H-5M-26 13.55H-5M5.5 -13.55H26M5.5 13.55H26" stroke="#333" stroke-width="0.9" fill="none"/><path d="M-5 -13.7H5" stroke="#444" stroke-width="0.6" fill="none"/><path d="M-5 -14Q-13 0 -5 14M5.5 -14Q10.5 0 5.5 14" stroke="#444" stroke-width="0.7" stroke-dasharray="1.6 1.1" fill="none"/><path d="M-19 -9V-6M15 2V10" stroke="#444" stroke-width="0.8" fill="none"/><rect x="-1.2" y="-13.5" width="2" height="3" fill="#222"/><rect x="-1.5" y="10.5" width="5.5" height="3.2" fill="#fff" stroke="#222" stroke-width="0.9"/><path d="M-36 -2.5H-32M-35 1.5L-32.5 -0.5" stroke="#555" stroke-width="0.7" fill="none"/></g><g transform="translate(1532 858.8) rotate(-1.5) scale(0.921 0.982)"><path d="M-26 -14H-5Q-13 0 -5 14H-26L-29.5 10V-10Z" fill="url(#cyl)"/><path d="M5.5 -14H26L29.5 -10V10L26 14H5.5Q10.5 0 5.5 -14Z" fill="url(#cyl)"/><path d="M-26 -13.55H-5M-26 13.55H-5M5.5 -13.55H26M5.5 13.55H26" stroke="#333" stroke-width="0.9" fill="none"/><path d="M-5 -13.7H5" stroke="#444" stroke-width="0.6" fill="none"/><path d="M-5 -14Q-13 0 -5 14M5.5 -14Q10.5 0 5.5 14" stroke="#444" stroke-width="0.7" stroke-dasharray="1.6 1.1" fill="none"/><path d="M-19 -9V-6M15 2V10" stroke="#444" stroke-width="0.8" fill="none"/><rect x="-1.2" y="-13.5" width="2" height="3" fill="#222"/><rect x="-1.5" y="10.5" width="5.5" height="3.2" fill="#fff" stroke="#222" stroke-width="0.9"/><path d="M-36 -2.5H-32M-35 1.5L-32.5 -0.5" stroke="#555" stroke-width="0.7" fill="none"/></g><g transform="translate(1592.5 856.6) rotate(-2) scale(0.983 0.982)"><path d="M-26 -14H-5Q-13 0 -5 14H-26L-29.5 10V-10Z" fill="url(#cyl)"/><path d="M5.5 -14H26L29.5 -10V10L26 14H5.5Q10.5 0 5.5 -14Z" fill="url(#cyl)"/><path d="M-26 -13.55H-5M-26 13.55H-5M5.5 -13.55H26M5.5 13.55H26" stroke="#333" stroke-width="0.9" fill="none"/><path d="M-5 -13.7H5" stroke="#444" stroke-width="0.6" fill="none"/><path d="M-5 -14Q-13 0 -5 14M5.5 -14Q10.5 0 5.5 14" stroke="#444" stroke-width="0.7" stroke-dasharray="1.6 1.1" fill="none"/><path d="M-19 -9V-6M15 2V10" stroke="#444" stroke-width="0.8" fill="none"/><rect x="-1.2" y="-13.5" width="2" height="3" fill="#222"/><rect x="-1.5" y="10.5" width="5.5" height="3.2" fill="#fff" stroke="#222" stroke-width="0.9"/><path d="M-36 -2.5H-32M-35 1.5L-32.5 -0.5" stroke="#555" stroke-width="0.7" fill="none"/></g><g transform="translate(1652.5 852) rotate(-4.5) scale(0.983 0.964)"><path d="M-26 -14H-5Q-13 0 -5 14H-26L-29.5 10V-10Z" fill="url(#cyl)"/><path d="M5.5 -14H26L29.5 -10V10L26 14H5.5Q10.5 0 5.5 -14Z" fill="url(#cyl)"/><path d="M-26 -13.55H-5M-26 13.55H-5M5.5 -13.55H26M5.5 13.55H26" stroke="#333" stroke-width="0.9" fill="none"/><path d="M-5 -13.7H5" stroke="#444" stroke-width="0.6" fill="none"/><path d="M-5 -14Q-13 0 -5 14M5.5 -14Q10.5 0 5.5 14" stroke="#444" stroke-width="0.7" stroke-dasharray="1.6 1.1" fill="none"/><path d="M-19 -9V-6M15 2V10" stroke="#444" stroke-width="0.8" fill="none"/><rect x="-1.2" y="-13.5" width="2" height="3" fill="#222"/><rect x="-1.5" y="10.5" width="5.5" height="3.2" fill="#fff" stroke="#222" stroke-width="0.9"/><path d="M-36 -2.5H-32M-35 1.5L-32.5 -0.5" stroke="#555" stroke-width="0.7" fill="none"/></g><g transform="translate(1706 830.5) rotate(-30) scale(0.897 0.964)"><path d="M-26 -14H-5Q-13 0 -5 14H-26L-29.5 10V-10Z" fill="url(#cyl)"/><path d="M5.5 -14H26L29.5 -10V10L26 14H5.5Q10.5 0 5.5 -14Z" fill="url(#cyl)"/><path d="M-26 -13.55H-5M-26 13.55H-5M5.5 -13.55H26M5.5 13.55H26" stroke="#333" stroke-width="0.9" fill="none"/><path d="M-5 -13.7H5" stroke="#444" stroke-width="0.6" fill="none"/><path d="M-5 -14Q-13 0 -5 14M5.5 -14Q10.5 0 5.5 14" stroke="#444" stroke-width="0.7" stroke-dasharray="1.6 1.1" fill="none"/><path d="M-19 -9V-6M15 2V10" stroke="#444" stroke-width="0.8" fill="none"/><rect x="-1.2" y="-13.5" width="2" height="3" fill="#222"/><rect x="-1.5" y="10.5" width="5.5" height="3.2" fill="#fff" stroke="#222" stroke-width="0.9"/><path d="M-36 -2.5H-32M-35 1.5L-32.5 -0.5" stroke="#555" stroke-width="0.7" fill="none"/></g><g transform="translate(1745.5 787.8) rotate(-65) scale(0.819 0.946)"><path d="M-26 -14H-5Q-13 0 -5 14H-26L-29.5 10V-10Z" fill="url(#cyl)"/><path d="M5.5 -14H26L29.5 -10V10L26 14H5.5Q10.5 0 5.5 -14Z" fill="url(#cyl)"/><path d="M-26 -13.55H-5M-26 13.55H-5M5.5 -13.55H26M5.5 13.55H26" stroke="#333" stroke-width="0.9" fill="none"/><path d="M-5 -13.7H5" stroke="#444" stroke-width="0.6" fill="none"/><path d="M-5 -14Q-13 0 -5 14M5.5 -14Q10.5 0 5.5 14" stroke="#444" stroke-width="0.7" stroke-dasharray="1.6 1.1" fill="none"/><path d="M-19 -9V-6M15 2V10" stroke="#444" stroke-width="0.8" fill="none"/><rect x="-1.2" y="-13.5" width="2" height="3" fill="#222"/><rect x="-1.5" y="10.5" width="5.5" height="3.2" fill="#fff" stroke="#222" stroke-width="0.9"/><path d="M-36 -2.5H-32M-35 1.5L-32.5 -0.5" stroke="#555" stroke-width="0.7" fill="none"/></g><g transform="translate(1745.2 733.6) rotate(-117.4) scale(0.767 0.929)"><path d="M-26 -14H-5Q-13 0 -5 14H-26L-29.5 10V-10Z" fill="url(#cyl)"/><path d="M5.5 -14H26L29.5 -10V10L26 14H5.5Q10.5 0 5.5 -14Z" fill="url(#cyl)"/><path d="M-26 -13.55H-5M-26 13.55H-5M5.5 -13.55H26M5.5 13.55H26" stroke="#333" stroke-width="0.9" fill="none"/><path d="M-5 -13.7H5" stroke="#444" stroke-width="0.6" fill="none"/><path d="M-5 -14Q-13 0 -5 14M5.5 -14Q10.5 0 5.5 14" stroke="#444" stroke-width="0.7" stroke-dasharray="1.6 1.1" fill="none"/><path d="M-19 -9V-6M15 2V10" stroke="#444" stroke-width="0.8" fill="none"/><rect x="-1.2" y="-13.5" width="2" height="3" fill="#222"/><rect x="-1.5" y="10.5" width="5.5" height="3.2" fill="#fff" stroke="#222" stroke-width="0.9"/><path d="M-36 -2.5H-32M-35 1.5L-32.5 -0.5" stroke="#555" stroke-width="0.7" fill="none"/></g><g transform="translate(1664.2 704.2) rotate(2.16)"><path d="M13 -13H63.35Q66.35 -13 66.35 -10V10Q66.35 13 63.35 13H13A13 13 0 0 1 13 -13Z" fill="url(#cylE)"/><path d="M13 -12.5H63.35M13 12.5H63.35" stroke="#2a2a2a" stroke-width="1" fill="none"/><path d="M13 12.5A12.5 12.5 0 0 1 2 4" stroke="#2a2a2a" stroke-width="1.2" fill="none"/></g><path d="M1657.5 703.3L1660.2 648" stroke="#ff2020" stroke-width="1.1"/><path d="M1655 648L1660.2 636.5L1665.4 648Z" fill="#ee0000" stroke="#300" stroke-width="0.6" stroke-linejoin="round"/><path d="M1657.5 703.3L1604.2 701.7" stroke="#3030ff" stroke-width="1.1"/><path d="M1604.2 696.1L1591.6 700.9L1604.2 706.1Z" fill="#0000ee" stroke="#003" stroke-width="0.6" stroke-linejoin="round"/><path d="M1657.5 703.3L1668 700.5" stroke="#20d020" stroke-width="1.1"/><circle cx="1672.8" cy="699.9" r="5.5" fill="#0a6a0a"/><g font-family="'Liberation Serif', 'Times New Roman', serif" font-size="10" fill="#3a3a3a"><text x="1649.6" y="645.8">x</text><text x="1596" y="696.7">z</text><text x="1664.3" y="694.8">y</text></g><g font-family="'Liberation Sans', Arial, sans-serif" font-weight="bold" font-size="38.3" fill="#000"><text x="1.2" y="28.7">A</text><text x="956.5" y="28.6">B</text><text x="2.2" y="512.2">C</text><text x="956.5" y="511.9">D</text></g>
</svg></body></html>
